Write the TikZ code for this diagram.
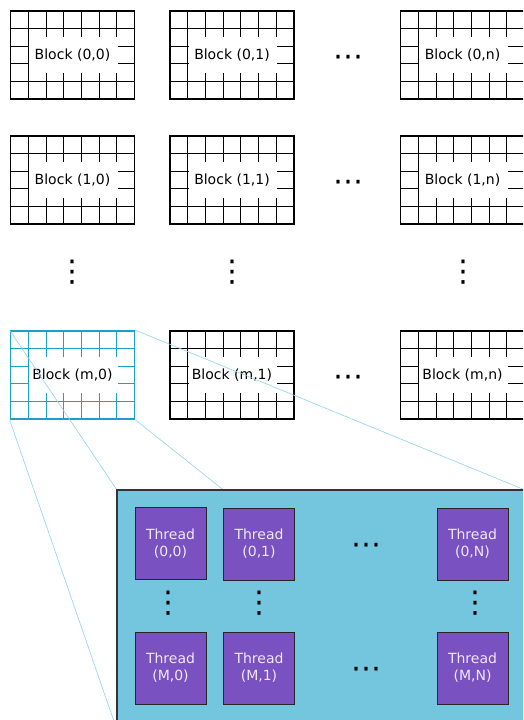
\documentclass[tikz,border=0pt]{standalone}
\usepackage{fontspec}
\setmainfont{DejaVu Sans}
\usepackage{tikz}

\definecolor{blockhl}{HTML}{1BA0CC}
\definecolor{zoomline}{HTML}{8ED3EA}
\definecolor{gridfill}{HTML}{74C6DE}
\definecolor{threadfill}{HTML}{7A51C0}
\definecolor{threadtext}{HTML}{EEE8FA}

\tikzset{
  lbl/.style={font=\fontsize{14}{17}\selectfont},
  dotsym/.style={font=\fontsize{30}{30}\selectfont, inner sep=0pt},
  zoom/.style={zoomline, line width=0.6pt},
  thread/.style={draw=black!85, line width=0.9pt, fill=threadfill, text=threadtext,
    minimum width=71pt, minimum height=72pt, align=center, lbl},
  pics/blockgrid/.style n args={2}{code={
    \foreach \k in {1,...,6}
      \draw[#2, line width=0.75pt] ({\k*124/7},0) -- ({\k*124/7},88);
    \foreach \k in {1,...,4}
      \draw[#2, line width=0.75pt] (0,{\k*17.6}) -- (124,{\k*17.6});
    \fill[white] (18.5,26.4) rectangle (107,61.6);
    \node[lbl] (-label) at (62,44) {#1};
    \node[draw=#2, line width=1.7pt, minimum width=124pt, minimum height=88pt, inner sep=0pt] (-box) at (62,44) {};
  }},
}

\begin{document}
\begin{tikzpicture}[x=1pt,y=-1pt]
\useasboundingbox (0,0) rectangle (523,720);
\clip (0,0) rectangle (523,720);
% blocks of the grid
\pic (b00) at (10.5,11) {blockgrid={Block (0,0)}{black}};
\pic (b01) at (170,11) {blockgrid={Block (0,1)}{black}};
\pic (b0n) at (400.5,11) {blockgrid={Block (0,n)}{black}};
\pic (b10) at (10.5,136) {blockgrid={Block (1,0)}{black}};
\pic (b11) at (170,136) {blockgrid={Block (1,1)}{black}};
\pic (b1n) at (400.5,136) {blockgrid={Block (1,n)}{black}};
\pic (bm0) at (10.5,331) {blockgrid={Block (m,0)}{blockhl}};
\pic (bm1) at (170,331) {blockgrid={Block (m,1)}{black}};
\pic (bmn) at (400.5,331) {blockgrid={Block (m,n)}{black}};
\node[dotsym] (h0) at (348,61) {⋯};
\node[dotsym] (h1) at (348,186) {⋯};
\node[dotsym] (hm) at (348,381) {⋯};
\node[dotsym] (v0) at (72,272) {⋮};
\node[dotsym] (v1) at (232,272) {⋮};
\node[dotsym] (vn) at (463,272) {⋮};
% zoom onto block (m,0)
\coordinate (znw) at (117,490);
\coordinate (zsw) at (117,730);
\coordinate (zne) at (525,490);
\coordinate (zse) at (525,730);
\draw[zoom] (bm0-box.north west) -- (znw);
\draw[zoom] (bm0-box.south west) -- (zsw);
\draw[zoom] (bm0-box.north east) -- (zne);
\draw[zoom] (bm0-box.south east) -- (zse);
\node[draw=black!80, line width=1.2pt, fill=gridfill, minimum width=408pt, minimum height=240pt] (tgrid) at (321,610) {};
% threads
\node[thread] (t00) at (170.5,543.5) {Thread\\(0,0)};
\node[thread] (t01) at (259,544) {Thread\\(0,1)};
\node[thread] (t0N) at (472.5,544) {Thread\\(0,N)};
\node[thread] (tM0) at (170.5,668) {Thread\\(M,0)};
\node[thread] (tM1) at (259,668) {Thread\\(M,1)};
\node[thread] (tMN) at (472.5,668) {Thread\\(M,N)};
\node[dotsym] (th0) at (366,549) {⋯};
\node[dotsym] (thM) at (366,673) {⋯};
\node[dotsym] (tv0) at (168,603) {⋮};
\node[dotsym] (tv1) at (259,603) {⋮};
\node[dotsym] (tvN) at (475,603) {⋮};
\end{tikzpicture}
\end{document}
